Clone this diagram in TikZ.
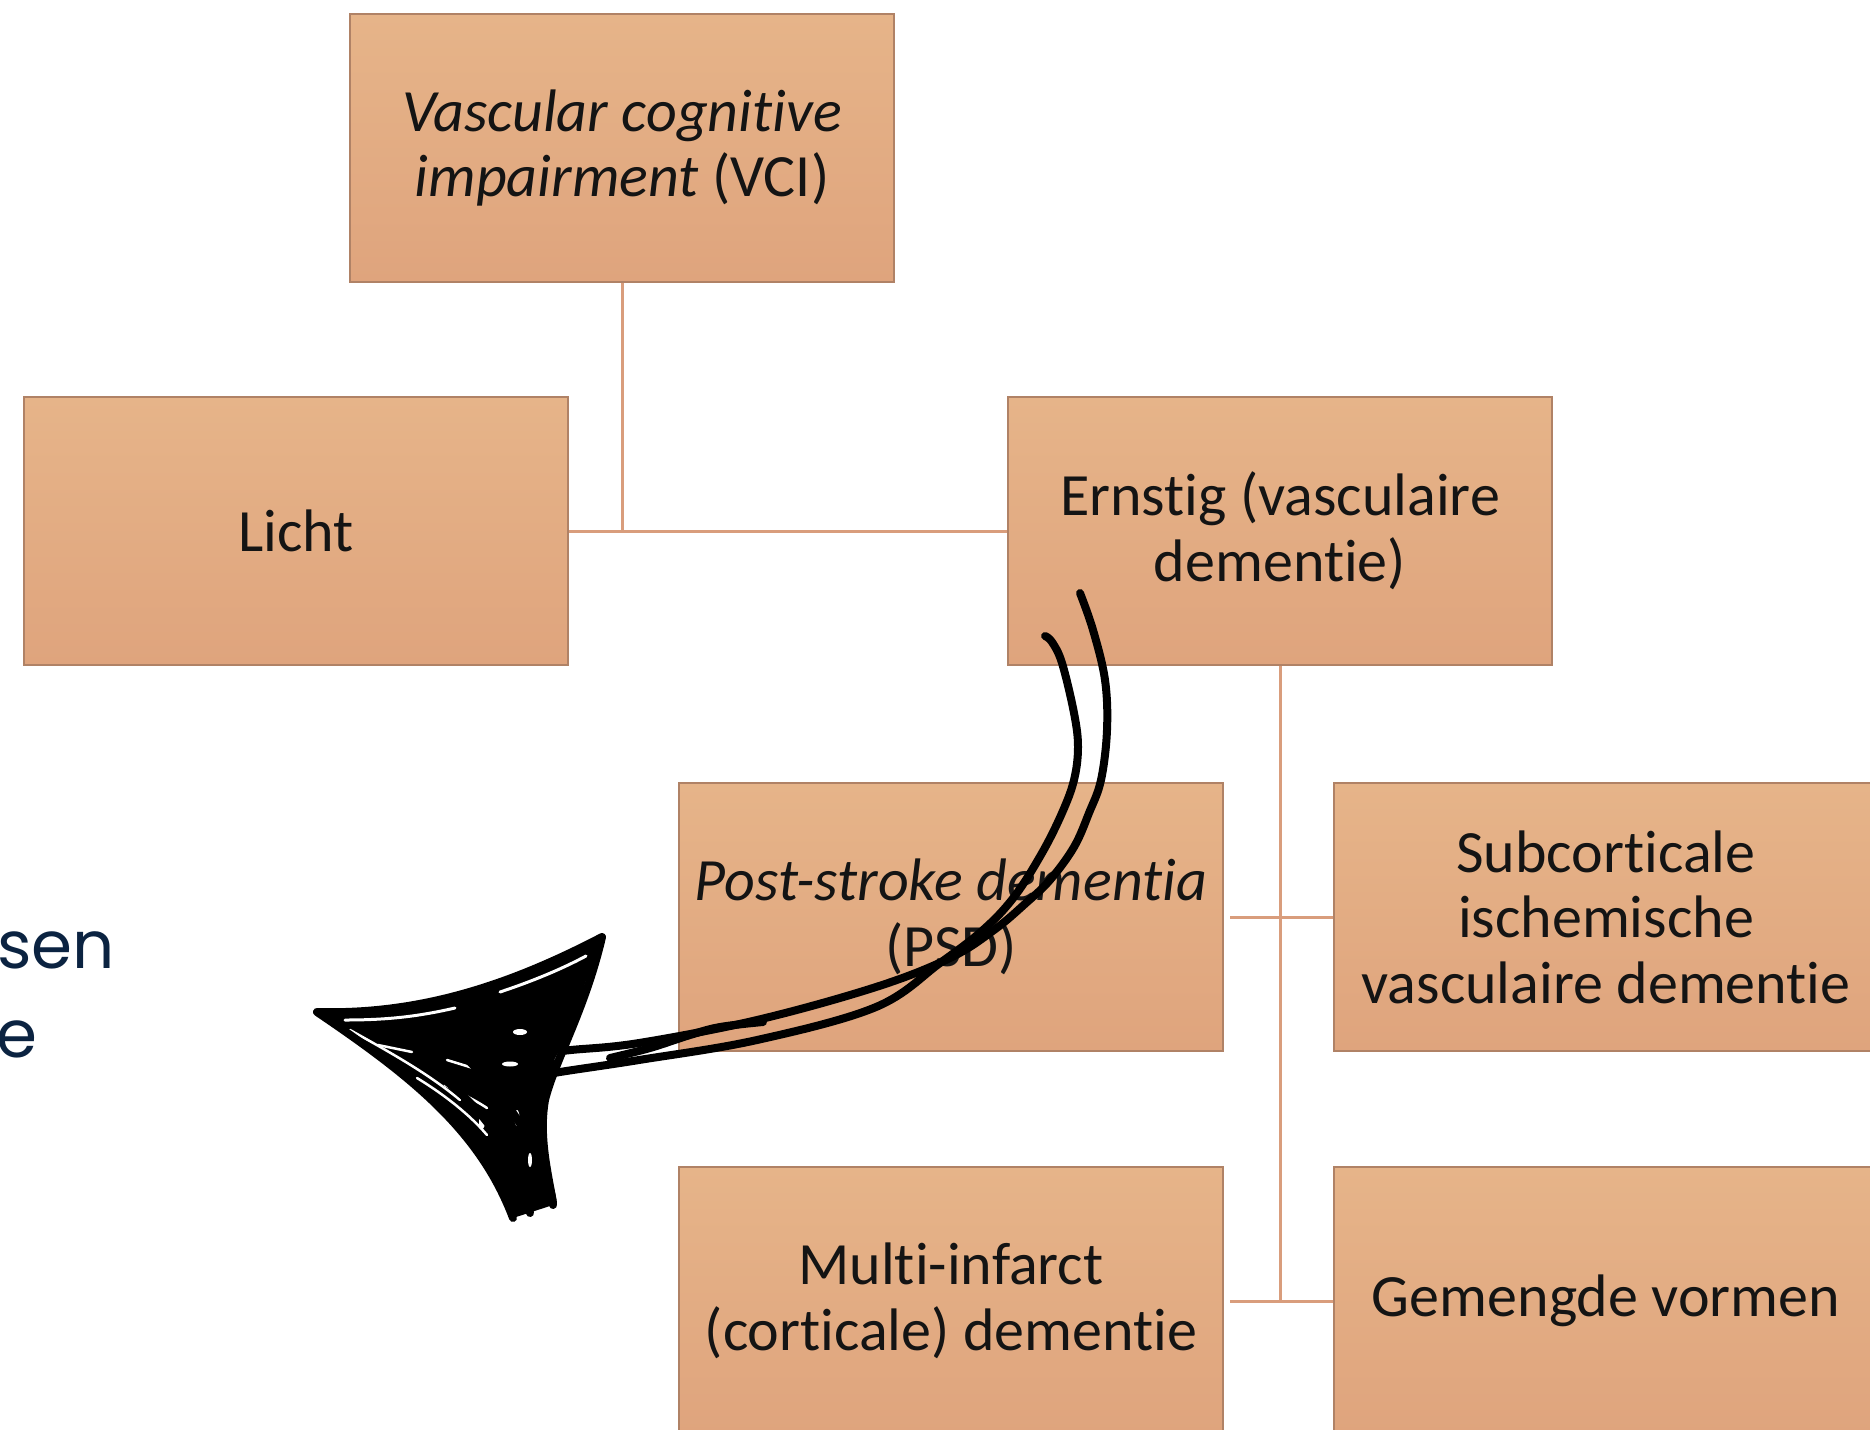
\documentclass[tikz,border=0pt]{standalone}
\usepackage{fontspec}
\setmainfont{Carlito}[Ligatures=NoCommon]
\newfontfamily\slidefont{Poppins}
\definecolor{boxtop}{HTML}{E6B489}
\definecolor{boxbot}{HTML}{DFA47D}
\definecolor{boxedge}{HTML}{B08266}
\definecolor{linkcol}{HTML}{D99D7C}
\definecolor{navy}{HTML}{0B2341}

\begin{document}
\begin{tikzpicture}[x=1pt,y=-1pt,
  catbox/.style={rectangle, draw=boxedge, line width=2pt,
    top color=boxtop, bottom color=boxbot,
    minimum width=544pt, minimum height=268pt, inner sep=0pt,
    align=center, text=black!92,
    font=\fontsize{60}{65.6}\selectfont},
  link/.style={draw=linkcol, line width=3pt},
  pen/.style={draw=black, line width=8pt, line cap=round, line join=round},
  gap/.style={draw=white, line width=3pt, line cap=round},
  slide/.style={anchor=base west, inner sep=0pt, text=navy,
    font=\slidefont\fontsize{66}{89}\selectfont}]

\useasboundingbox (0,0) rectangle (1870,1429);
\clip (0,0) rectangle (1870,1429);

% category boxes
\node[catbox] (vci)     at (622,148)  {\textit{Vascular cognitive}\\\textit{impairment} (VCI)};
\node[catbox] (licht)   at (296,531)  {Licht};
\node[catbox] (ernstig) at (1280,531) {Ernstig (vasculaire\\dementie)};
\node[catbox] (psd)     at (951,917)  {\textit{Post-stroke dementia}\\(PSD)};
\node[catbox] (sub)     at (1606,917) {Subcorticale\\ischemische\\vasculaire dementie};
\node[catbox] (multi)   at (951,1301) {Multi-infarct\\(corticale) dementie};
\node[catbox] (mixed)   at (1606,1301){Gemengde vormen};

% tree connectors
\coordinate (j1) at (vci.south |- licht.east);
\draw[link] (vci.south) -- (j1);
\draw[link] (licht.east) -- (ernstig.west);
\coordinate (j2) at (ernstig.south |- mixed.west);
\draw[link] (ernstig.south) -- (j2);
\draw[link] ([xshift=6pt]psd.east) -- (sub.west);
\draw[link] ([xshift=6pt]multi.east) -- (mixed.west);

% slide text at the left edge
\node[slide] (w1) at (-3,968)  {sen};
\node[slide] (w2) at (-4,1057) {e};

% hand-drawn arrow: shaft strokes
\draw[pen] plot[smooth, tension=0.6] coordinates {
  (1080,593) (1093,630) (1105,680) (1107,730) (1101,780) (1089,813)
  (1074,847) (1050,880) (1026,903) (994,930) (950,958) (876,987)
  (757,1020) (639,1043) (571,1050) (548,1053)};
\draw[pen] plot[smooth, tension=0.6] coordinates {
  (1045,636) (1052,642) (1062,663) (1074,713) (1078,747) (1074,780)
  (1062,813) (1042,853) (1014,897) (983,930) (940,963) (876,1007)
  (757,1040) (639,1060) (560,1072) (530,1078)};
\draw[pen] plot[smooth, tension=0.6] coordinates {
  (763,1022) (720,1027) (690,1035) (650,1048) (610,1058)};

% hand-drawn arrow: scribbled head
\fill[black] (513,1218) .. controls (480,1130) and (410,1075) .. (317,1012)
  .. controls (420,1015) and (510,985) .. (602,937)
  .. controls (585,1010) and (555,1060) .. (545,1100)
  .. controls (538,1140) and (550,1180) .. (553,1205) -- cycle;
\draw[gap] (345,1020) .. controls (390,1020) and (420,1016) .. (455,1008);
\draw[gap] (500,992) .. controls (530,982) and (560,970) .. (586,956);
\draw[gap] (587,982) .. controls (582,1005) and (570,1035) .. (556,1060);
\draw[gap, line width=2.5pt] (350,1030) .. controls (395,1055) and (430,1075) .. (460,1100);
\draw[gap, line width=2.5pt] (417,1078) .. controls (445,1095) and (470,1115) .. (487,1135);
\draw[gap, line width=2.5pt] (378,1045) -- (412,1052);
\draw[gap, line width=2.5pt] (447,1060) -- (473,1068);
\draw[gap, line width=2.5pt] (445,1085) .. controls (465,1095) and (478,1102) .. (487,1108);
\draw[gap, line width=2.5pt] (470,1145) .. controls (480,1160) and (488,1175) .. (495,1190);
\fill[white] (520,1032) ellipse [x radius=7pt, y radius=3pt];
\fill[white] (510,1064) ellipse [x radius=8pt, y radius=2.5pt];
\fill[white] (482,1122) ellipse [x radius=3pt, y radius=7pt];
\fill[white] (517,1118) ellipse [x radius=2.5pt, y radius=8pt];
\fill[white] (530,1160) ellipse [x radius=2pt, y radius=7pt];
\draw[pen] (513,1218) .. controls (480,1130) and (410,1075) .. (317,1012)
  .. controls (420,1015) and (510,985) .. (602,937)
  .. controls (585,1010) and (555,1060) .. (545,1100)
  .. controls (538,1140) and (550,1180) .. (553,1205);
\draw[pen] (530,1213) .. controls (522,1170) and (495,1120) .. (445,1080);
\draw[pen] (553,1203) .. controls (548,1165) and (515,1105) .. (470,1062);
\end{tikzpicture}
\end{document}
